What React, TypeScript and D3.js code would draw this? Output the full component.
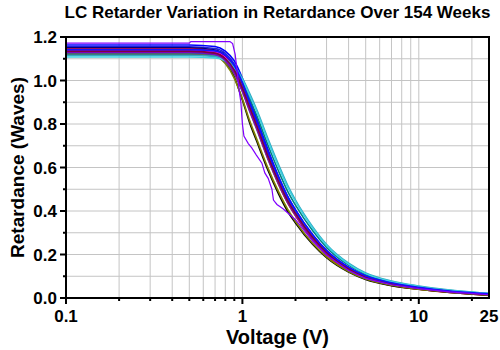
import React, { useEffect, useRef } from "react";
import * as d3 from "d3";

// voltage grid shared by the measured curves
const voltages = [0.1, 0.5, 0.7, 0.8, 0.9, 1.0, 1.1, 1.2, 1.4, 1.6, 1.8, 2.0, 2.5, 3, 4, 5, 7, 10, 15, 25];

const seriesColors = [
  "#0000FF", "#2020E0", "#000080", "#FF0000", "#000000", "#FF00FF", "#008000", "#808000",
  "#0050FF", "#008080", "#606060", "#30A8C0", "#40D0E0", "#8000C0", "#800040", "#1010FF",
];

const seriesValues = [
  [1.163, 1.163, 1.156, 1.135, 1.09, 1.01, 0.92, 0.83, 0.68, 0.56, 0.47, 0.405, 0.29, 0.218, 0.14, 0.1, 0.068, 0.047, 0.031, 0.018],
  [1.155, 1.155, 1.147, 1.125, 1.075, 0.99, 0.9, 0.815, 0.665, 0.55, 0.46, 0.398, 0.285, 0.214, 0.138, 0.099, 0.067, 0.047, 0.03, 0.017],
  [1.15, 1.15, 1.14, 1.115, 1.06, 0.975, 0.885, 0.8, 0.655, 0.54, 0.452, 0.39, 0.28, 0.21, 0.136, 0.098, 0.066, 0.046, 0.03, 0.017],
  [1.145, 1.145, 1.136, 1.11, 1.055, 0.97, 0.875, 0.79, 0.64, 0.525, 0.44, 0.378, 0.268, 0.198, 0.125, 0.088, 0.058, 0.04, 0.025, 0.012],
  [1.14, 1.14, 1.125, 1.088, 1.015, 0.91, 0.805, 0.725, 0.585, 0.48, 0.4, 0.345, 0.247, 0.185, 0.119, 0.085, 0.057, 0.04, 0.026, 0.013],
  [1.138, 1.138, 1.13, 1.105, 1.05, 0.965, 0.875, 0.795, 0.645, 0.535, 0.447, 0.386, 0.277, 0.207, 0.133, 0.095, 0.064, 0.045, 0.029, 0.016],
  [1.132, 1.132, 1.123, 1.098, 1.045, 0.962, 0.874, 0.796, 0.648, 0.54, 0.452, 0.392, 0.283, 0.213, 0.138, 0.099, 0.068, 0.048, 0.031, 0.018],
  [1.128, 1.128, 1.113, 1.078, 1.01, 0.915, 0.815, 0.735, 0.595, 0.49, 0.41, 0.352, 0.252, 0.189, 0.122, 0.087, 0.059, 0.041, 0.027, 0.014],
  [1.125, 1.125, 1.117, 1.094, 1.045, 0.967, 0.88, 0.8, 0.655, 0.545, 0.457, 0.396, 0.286, 0.215, 0.139, 0.1, 0.068, 0.048, 0.031, 0.018],
  [1.12, 1.12, 1.114, 1.097, 1.058, 0.993, 0.915, 0.843, 0.7, 0.585, 0.493, 0.427, 0.31, 0.233, 0.151, 0.108, 0.074, 0.052, 0.034, 0.02],
  [1.122, 1.122, 1.112, 1.085, 1.03, 0.948, 0.858, 0.78, 0.635, 0.525, 0.44, 0.38, 0.272, 0.203, 0.13, 0.093, 0.063, 0.044, 0.028, 0.015],
  [1.115, 1.115, 1.111, 1.098, 1.065, 1.01, 0.94, 0.87, 0.73, 0.615, 0.52, 0.45, 0.328, 0.246, 0.16, 0.115, 0.078, 0.055, 0.036, 0.021],
  [1.108, 1.108, 1.104, 1.091, 1.058, 1.003, 0.93, 0.862, 0.72, 0.605, 0.512, 0.443, 0.322, 0.242, 0.156, 0.112, 0.076, 0.053, 0.035, 0.02],
  [1.13, 1.13, 1.12, 1.092, 1.035, 0.952, 0.862, 0.785, 0.64, 0.53, 0.443, 0.383, 0.274, 0.205, 0.132, 0.094, 0.064, 0.045, 0.029, 0.016],
  [1.135, 1.135, 1.126, 1.1, 1.048, 0.965, 0.877, 0.798, 0.65, 0.538, 0.45, 0.389, 0.279, 0.209, 0.134, 0.096, 0.065, 0.046, 0.03, 0.016],
  [1.142, 1.142, 1.136, 1.115, 1.068, 0.99, 0.9, 0.82, 0.672, 0.558, 0.468, 0.405, 0.292, 0.219, 0.142, 0.102, 0.07, 0.049, 0.032, 0.019],
];

// the one odd week, with its early drop
const oddVoltages = [0.1, 0.5, 0.51, 0.85, 0.88, 0.91, 0.94, 0.96, 0.98, 1.0, 1.02, 1.08, 1.13, 1.2, 1.29, 1.34, 1.4, 1.47, 1.5, 1.57, 1.7, 2.0, 2.5, 3, 4, 5, 7, 10, 15, 25];
const oddValues = [1.172, 1.172, 1.179, 1.179, 1.17, 1.12, 1.02, 0.95, 0.9, 0.8, 0.745, 0.71, 0.69, 0.657, 0.62, 0.575, 0.55, 0.5, 0.45, 0.43, 0.41, 0.36, 0.262, 0.197, 0.126, 0.09, 0.061, 0.043, 0.028, 0.015];
const oddColor = "#8000FF";

const yMajor = [0, 0.2, 0.4, 0.6, 0.8, 1.0, 1.2];
const yMinor = [0.1, 0.3, 0.5, 0.7, 0.9, 1.1];
const xMajor = [0.1, 1, 10];
const xMinor = [0.2, 0.3, 0.4, 0.5, 0.6, 0.7, 0.8, 0.9, 2, 3, 4, 5, 6, 7, 8, 9, 20];
const xLabels = ["0.1", "1", "10", "25"];

const App = () => {
  const ref = useRef<SVGSVGElement>(null);

  useEffect(() => {
    const svg = d3.select(ref.current);
    svg.selectAll("*").remove();

    const margin = { top: 37, right: 11, bottom: 52, left: 66 };
    const width = 500 - margin.left - margin.right;
    const height = 350 - margin.top - margin.bottom;
    const font = "Arial, 'Liberation Sans', sans-serif";

    const x = d3.scaleLog().domain([0.1, 25]).range([0, width]);
    const y = d3.scaleLinear().domain([0, 1.2]).range([height, 0]);

    const g = svg.append("g").attr("transform", `translate(${margin.left},${margin.top})`);

    // grid
    g.selectAll(".gx")
      .data([...xMinor, 1, 10])
      .enter()
      .append("line")
      .attr("x1", (d) => x(d))
      .attr("x2", (d) => x(d))
      .attr("y1", 0)
      .attr("y2", height)
      .attr("stroke", "#c4c4c4")
      .attr("stroke-width", 1);
    g.selectAll(".gy")
      .data([...yMinor, 0.2, 0.4, 0.6, 0.8, 1.0])
      .enter()
      .append("line")
      .attr("x1", 0)
      .attr("x2", width)
      .attr("y1", (d) => y(d))
      .attr("y2", (d) => y(d))
      .attr("stroke", "#c4c4c4")
      .attr("stroke-width", 1);

    const line = d3
      .line<[number, number]>()
      .x((d) => x(d[0]))
      .y((d) => y(d[1]))
      .curve(d3.curveMonotoneX);

    const curves = g.append("g");
    seriesValues.forEach((vals, i) => {
      curves
        .append("path")
        .attr("d", line(voltages.map((v, j) => [v, vals[j]] as [number, number])))
        .attr("fill", "none")
        .attr("stroke", seriesColors[i])
        .attr("stroke-width", 1.6);
    });
    curves
      .append("path")
      .attr("d", d3.line<[number, number]>().x((d) => x(d[0])).y((d) => y(d[1]))(oddVoltages.map((v, j) => [v, oddValues[j]] as [number, number])))
      .attr("fill", "none")
      .attr("stroke", oddColor)
      .attr("stroke-width", 1.2);

    // frame
    g.append("rect")
      .attr("width", width)
      .attr("height", height)
      .attr("fill", "none")
      .attr("stroke", "#000")
      .attr("stroke-width", 2);

    // y ticks
    g.selectAll(".yt")
      .data(yMajor)
      .enter()
      .append("line")
      .attr("x1", -6)
      .attr("x2", 0)
      .attr("y1", (d) => y(d))
      .attr("y2", (d) => y(d))
      .attr("stroke", "#000")
      .attr("stroke-width", 2);
    g.selectAll(".ym")
      .data(yMinor)
      .enter()
      .append("line")
      .attr("x1", -3)
      .attr("x2", 0)
      .attr("y1", (d) => y(d))
      .attr("y2", (d) => y(d))
      .attr("stroke", "#000")
      .attr("stroke-width", 2);
    g.selectAll(".yl")
      .data(yMajor)
      .enter()
      .append("text")
      .attr("x", -9)
      .attr("y", (d) => y(d))
      .attr("dy", "0.36em")
      .attr("text-anchor", "end")
      .style("font", `bold 17px ${font}`)
      .text((d) => d.toFixed(1));

    // x ticks
    g.selectAll(".xt")
      .data(xMajor)
      .enter()
      .append("line")
      .attr("x1", (d) => x(d))
      .attr("x2", (d) => x(d))
      .attr("y1", height)
      .attr("y2", height + 6)
      .attr("stroke", "#000")
      .attr("stroke-width", 2);
    g.selectAll(".xm")
      .data(xMinor)
      .enter()
      .append("line")
      .attr("x1", (d) => x(d))
      .attr("x2", (d) => x(d))
      .attr("y1", height)
      .attr("y2", height + 3)
      .attr("stroke", "#000")
      .attr("stroke-width", 2);
    g.selectAll(".xl")
      .data(xLabels)
      .enter()
      .append("text")
      .attr("x", (d) => x(+d))
      .attr("y", height + 24)
      .attr("text-anchor", "middle")
      .style("font", `bold 17px ${font}`)
      .text((d) => d);

    // titles
    svg.append("text")
      .attr("x", margin.left + width / 2)
      .attr("y", 18)
      .attr("text-anchor", "middle")
      .style("font", `bold 17px ${font}`)
      .text("LC Retarder Variation in Retardance Over 154 Weeks");
    svg.append("text")
      .attr("x", margin.left + width / 2)
      .attr("y", 344)
      .attr("text-anchor", "middle")
      .style("font", `bold 20px ${font}`)
      .text("Voltage (V)");
    svg.append("text")
      .attr("transform", `translate(24,${margin.top + height / 2}) rotate(-90)`)
      .attr("text-anchor", "middle")
      .style("font", `bold 19px ${font}`)
      .text("Retardance (Waves)");
  }, []);

  return (
    <svg
      ref={ref}
      width={500}
      height={350}
      style={{ position: "fixed", left: 0, top: 0, background: "#fff" }}
    />
  );
};

export default App;
